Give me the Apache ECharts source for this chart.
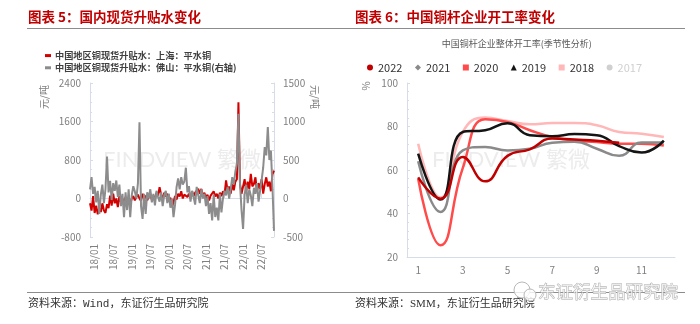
<!DOCTYPE html>
<html><head><meta charset="utf-8">
<script src="https://cdn.jsdelivr.net/npm/echarts@6/dist/echarts.min.js"></script>
<style>html,body{margin:0;padding:0;background:#fff}#c{width:700px;height:324px}</style>
</head><body><div id="c"></div>
<script>
// ---- Chart 5: spot premium (half-monthly samples) ----
const dates = [
'2017-11-16','2017-12-01','2017-12-16',
'2018-01-01','2018-01-16','2018-02-01','2018-02-16','2018-03-01','2018-03-16','2018-04-01','2018-04-16','2018-05-01','2018-05-16','2018-06-01','2018-06-16',
'2018-07-01','2018-07-16','2018-08-01','2018-08-16','2018-09-01','2018-09-16','2018-10-01','2018-10-16','2018-11-01','2018-11-16','2018-12-01','2018-12-16',
'2019-01-01','2019-01-16','2019-02-01','2019-02-16','2019-03-01','2019-03-16','2019-04-01','2019-04-16','2019-05-01','2019-05-16','2019-06-01','2019-06-16',
'2019-07-01','2019-07-16','2019-08-01','2019-08-16','2019-09-01','2019-09-16','2019-10-01','2019-10-16','2019-11-01','2019-11-16','2019-12-01','2019-12-16',
'2020-01-01','2020-01-16','2020-02-01','2020-02-16','2020-03-01','2020-03-16','2020-04-01','2020-04-16','2020-05-01','2020-05-16','2020-06-01','2020-06-16',
'2020-07-01','2020-07-16','2020-08-01','2020-08-16','2020-09-01','2020-09-16','2020-10-01','2020-10-16','2020-11-01','2020-11-16','2020-12-01','2020-12-16',
'2021-01-01','2021-01-16','2021-02-01','2021-02-16','2021-03-01','2021-03-16','2021-04-01','2021-04-16','2021-05-01','2021-05-16','2021-06-01','2021-06-16',
'2021-07-01','2021-07-16','2021-08-01','2021-08-16','2021-09-01','2021-09-16','2021-10-01','2021-10-16','2021-11-01','2021-11-16','2021-12-01','2021-12-16',
'2022-01-01','2022-01-16','2022-02-01','2022-02-16','2022-03-01','2022-03-16','2022-04-01','2022-04-16','2022-05-01','2022-05-16','2022-06-01','2022-06-16',
'2022-07-01','2022-07-16','2022-08-01','2022-08-16','2022-09-01','2022-09-16','2022-10-01','2022-10-16','2022-11-01'
];
// 上海 平水铜 (left axis, 元/吨)
const shanghai = [
-100,-250,50,
-300,-150,-330,-200,-280,-100,-250,-300,-120,-200,60,-150,
100,-100,0,-180,50,-80,0,-100,30,-60,20,-120,
0,50,-40,30,80,0,-50,100,0,60,-40,40,
100,-30,50,0,120,60,235,80,0,120,40,100,
-60,20,-180,-80,50,-20,100,40,150,0,80,120,
30,100,0,150,50,120,80,200,100,200,40,120,
0,80,-40,60,20,150,40,100,0,120,50,150,
80,375,160,250,100,300,170,350,400,2000,300,100,
250,400,150,350,200,510,250,300,440,150,320,200,
400,100,300,440,250,350,150,500,580
];
// 佛山 平水铜 (right axis, 元/吨)
const foshan = [
120,277,60,
150,-50,100,-200,50,180,-60,120,546,80,230,-20,
200,100,234,20,180,-100,60,-243,80,-150,120,-243,
40,160,90,0,200,990,-100,-264,60,-200,80,0,
120,-50,60,-90,100,20,-40,80,-100,40,100,-60,
60,-120,0,-243,-80,150,260,120,277,180,220,400,
80,160,-40,100,20,-80,150,40,-60,120,0,60,
-100,30,-200,-60,-285,50,-240,-120,-285,60,-180,0,
100,40,150,0,120,277,180,350,450,1100,200,-150,
-394,50,180,-60,120,40,-100,140,60,200,-40,100,
240,400,667,560,927,500,624,150,-420
];
const leftTicksL = [-800, 0, 800, 1600, 2400];
const leftTicksR = [-500, 0, 500, 1000, 1500];

// ---- Chart 6: copper rod operating rate (seasonal) ----
const months = ['1','2','3','4','5','6','7','8','9','10','11','12'];
const y2022 = [56.6, 46.8, 66.0, 54.8, 66.5, 69.5, 74.5, 74.0, 73.5, 72.5];
const y2021 = [64.0, 40.7, 69.0, 70.6, 69.0, 69.8, 72.5, 73.0, 69.8, 66.5, 72.6, 72.6];
const y2020 = [56.0, 25.4, 61.0, 83.3, 82.1, 78.3, 75.2, 73.5, 72.9, 72.1, 72.1, 71.3];
const y2019 = [67.5, 46.4, 77.5, 78.3, 81.5, 76.0, 75.5, 76.5, 76.0, 71.0, 68.0, 73.5];
const y2018 = [72.1, 47.3, 77.5, 84.1, 82.5, 81.0, 81.6, 81.6, 80.6, 77.5, 76.7, 75.2];
const y2017 = [];
const rightTicks = [20, 40, 60, 80, 100];

const CJK = '"Noto Sans CJK SC", "Noto Sans", sans-serif';
const axisLineC = '#d6dce8';
const labelC = '#7f7f7f';
const plain = v => String(v);

const chart = echarts.init(document.getElementById('c'), null, {renderer: 'canvas'});
const nameSH = '中国地区铜现货升贴水：上海：平水铜';
const nameFS = '中国地区铜现货升贴水：佛山：平水铜(右轴)';

chart.setOption({
  animation: false,
  backgroundColor: '#fff',
  textStyle: {fontFamily: CJK},
  grid: [
    {left: 90, top: 83, width: 184, height: 154},
    {left: 407, top: 83, width: 268, height: 174}
  ],
  legend: [
    {
      orient: 'vertical', left: 40, top: 46, itemWidth: 6, itemHeight: 3, itemGap: 3,
      icon: 'rect', data: [nameSH, nameFS],
      textStyle: {fontSize: 9.2, fontWeight: 'bold', color: '#404040', fontFamily: CJK, padding: [0,0,0,-1]}
    },
    {
      orient: 'horizontal', left: 362, top: 57, itemWidth: 6, itemHeight: 6, itemGap: 12.5,
      data: [
        {name: '2022', icon: 'circle'}, {name: '2021', icon: 'diamond'}, {name: '2020', icon: 'rect'},
        {name: '2019', icon: 'triangle'}, {name: '2018', icon: 'rect'}, {name: '2017', icon: 'circle'}
      ],
      selected: {'2017': false},
      inactiveColor: '#d0d0d0',
      textStyle: {fontSize: 11, color: '#333', fontFamily: CJK}
    }
  ],
  xAxis: [
    {
      type: 'category', gridIndex: 0, data: dates, boundaryGap: false,
      axisLine: {lineStyle: {color: axisLineC}},
      axisTick: {inside: true, length: 5, lineStyle: {color: axisLineC},
        interval: (i, v) => v.endsWith('-01-01') || v.endsWith('-07-01')},
      axisLabel: {rotate: 90, margin: 7, fontSize: 10, color: labelC,
        interval: (i, v) => v.endsWith('-01-01') || v.endsWith('-07-01'),
        formatter: v => v.slice(2, 4) + '/' + v.slice(5, 7)},
      splitLine: {show: false}
    },
    {
      type: 'category', gridIndex: 1, data: months, boundaryGap: true,
      axisLine: {lineStyle: {color: axisLineC}},
      axisTick: {show: false},
      axisLabel: {interval: 1, margin: 8, fontSize: 10, color: labelC},
      splitLine: {show: false}
    }
  ],
  yAxis: [
    {
      type: 'value', gridIndex: 0, position: 'left',
      min: leftTicksL[0], max: leftTicksL[leftTicksL.length-1], interval: 800,
      axisLine: {show: true, lineStyle: {color: axisLineC}},
      axisTick: {show: true, inside: true, length: 3, lineStyle: {color: axisLineC}},
      minorTick: {show: true, splitNumber: 4, length: 2, lineStyle: {color: axisLineC}},
      axisLabel: {margin: 9, fontSize: 10, color: labelC, formatter: plain},
      splitLine: {show: false}
    },
    {
      type: 'value', gridIndex: 0, position: 'right',
      min: leftTicksR[0], max: leftTicksR[leftTicksR.length-1], interval: 500,
      axisLine: {show: true, lineStyle: {color: axisLineC}},
      axisTick: {show: true, inside: true, length: 3, lineStyle: {color: axisLineC}},
      minorTick: {show: true, splitNumber: 4, length: 2, lineStyle: {color: axisLineC}},
      axisLabel: {margin: 9, fontSize: 10, color: labelC, formatter: plain},
      splitLine: {show: false}
    },
    {
      type: 'value', gridIndex: 1,
      min: rightTicks[0], max: rightTicks[rightTicks.length-1], interval: 20,
      axisLine: {show: true, lineStyle: {color: axisLineC}},
      axisTick: {show: true, inside: true, length: 3, lineStyle: {color: axisLineC}},
      minorTick: {show: true, splitNumber: 5, length: 2, lineStyle: {color: axisLineC}},
      axisLabel: {margin: 9, fontSize: 10, color: labelC, formatter: plain},
      splitLine: {show: false}
    }
  ],
  series: [
    {name: nameSH, type: 'line', xAxisIndex: 0, yAxisIndex: 0, data: shanghai, symbol: 'none',
     color: '#d40000', lineStyle: {width: 2, color: '#d40000'}},
    {name: nameFS, type: 'line', xAxisIndex: 0, yAxisIndex: 1, data: foshan, symbol: 'none',
     color: '#8c8c8c', lineStyle: {width: 2, color: '#8c8c8c'}},
    {name: '2017', type: 'line', xAxisIndex: 1, yAxisIndex: 2, data: y2017, smooth: true, symbol: 'none',
     color: '#d9d9d9', lineStyle: {width: 2.5}},
    {name: '2018', type: 'line', xAxisIndex: 1, yAxisIndex: 2, data: y2018, smooth: true, symbol: 'none',
     color: '#ffb7b7', lineStyle: {width: 2.5}},
    {name: '2020', type: 'line', xAxisIndex: 1, yAxisIndex: 2, data: y2020, smooth: true, symbol: 'none',
     color: '#ff4b4b', lineStyle: {width: 2.5}},
    {name: '2021', type: 'line', xAxisIndex: 1, yAxisIndex: 2, data: y2021, smooth: true, symbol: 'none',
     color: '#8a8a8a', lineStyle: {width: 2.5}},
    {name: '2019', type: 'line', xAxisIndex: 1, yAxisIndex: 2, data: y2019, smooth: true, symbol: 'none',
     color: '#141414', lineStyle: {width: 2.5}},
    {name: '2022', type: 'line', xAxisIndex: 1, yAxisIndex: 2, data: y2022, smooth: true, symbol: 'none',
     color: '#c00000', lineStyle: {width: 2.5}}
  ],
  graphic: [
    {type: 'text', x: 28, y: 17, style: {text: '图表 5：国内现货升贴水变化', fill: '#c00000',
      fontSize: 13.5, fontWeight: 'bold', fontFamily: CJK, textVerticalAlign: 'middle'}},
    {type: 'text', x: 355, y: 17, style: {text: '图表 6：中国铜杆企业开工率变化', fill: '#c00000',
      fontSize: 13.5, fontWeight: 'bold', fontFamily: CJK, textVerticalAlign: 'middle'}},
    {type: 'line', shape: {x1: 27, y1: 28.5, x2: 685, y2: 28.5}, style: {stroke: '#8c8c8c', lineWidth: 1.2}},
    {type: 'line', shape: {x1: 27, y1: 292.5, x2: 685, y2: 292.5}, style: {stroke: '#8c8c8c', lineWidth: 1.2}},
    {type: 'text', x: 28, y: 304, style: {text: '资料来源：Wind，东证衍生品研究院', fill: '#333',
      fontSize: 11, fontFamily: '"Liberation Mono", ' + CJK, textVerticalAlign: 'middle'}},
    {type: 'text', x: 355, y: 304, style: {text: '资料来源：SMM，东证衍生品研究院', fill: '#333',
      fontSize: 11, fontFamily: '"Liberation Serif", ' + CJK, textVerticalAlign: 'middle'}},
    {type: 'text', x: 516.7, y: 44, style: {text: '中国铜杆企业整体开工率(季节性分析)', fill: '#595959',
      fontSize: 9, fontFamily: CJK, textAlign: 'center', textVerticalAlign: 'middle'}},
    {type: 'text', x: 44, y: 97, rotation: Math.PI / 2, style: {text: '元/吨', fill: labelC,
      fontSize: 10, fontFamily: CJK, textAlign: 'center', textVerticalAlign: 'middle'}},
    {type: 'text', x: 315, y: 97, rotation: -Math.PI / 2, style: {text: '元/吨', fill: labelC,
      fontSize: 10, fontFamily: CJK, textAlign: 'center', textVerticalAlign: 'middle'}},
    {type: 'text', x: 366.7, y: 86, rotation: Math.PI / 2, style: {text: '%', fill: labelC,
      fontSize: 10, fontFamily: CJK, textAlign: 'center', textVerticalAlign: 'middle'}},
    {type: 'text', x: 182, y: 160, z: 0, style: {text: 'FINDVIEW 繁微', fill: '#ececec',
      fontSize: 22, fontFamily: 'Lato, ' + CJK, textAlign: 'center', textVerticalAlign: 'middle'}},
    {type: 'text', x: 511, y: 160, z: 0, style: {text: 'FINDVIEW 繁微', fill: '#ececec',
      fontSize: 22, fontFamily: 'Lato, ' + CJK, textAlign: 'center', textVerticalAlign: 'middle'}},
    {type: 'circle', shape: {cx: 522, cy: 290, r: 8}, style: {fill: 'rgba(255,255,255,0.8)', stroke: '#b8b8b8', lineWidth: 1}},
    {type: 'circle', shape: {cx: 530, cy: 295, r: 6}, style: {fill: 'rgba(255,255,255,0.8)', stroke: '#b8b8b8', lineWidth: 1}},
    {type: 'text', x: 538, y: 291, style: {text: '东证衍生品研究院', fill: 'rgba(255,255,255,0.7)', stroke: '#a8a8a8', lineWidth: 0.8,
      fontSize: 17.5, fontFamily: CJK, textVerticalAlign: 'middle'}}
  ]
});
</script></body></html>
